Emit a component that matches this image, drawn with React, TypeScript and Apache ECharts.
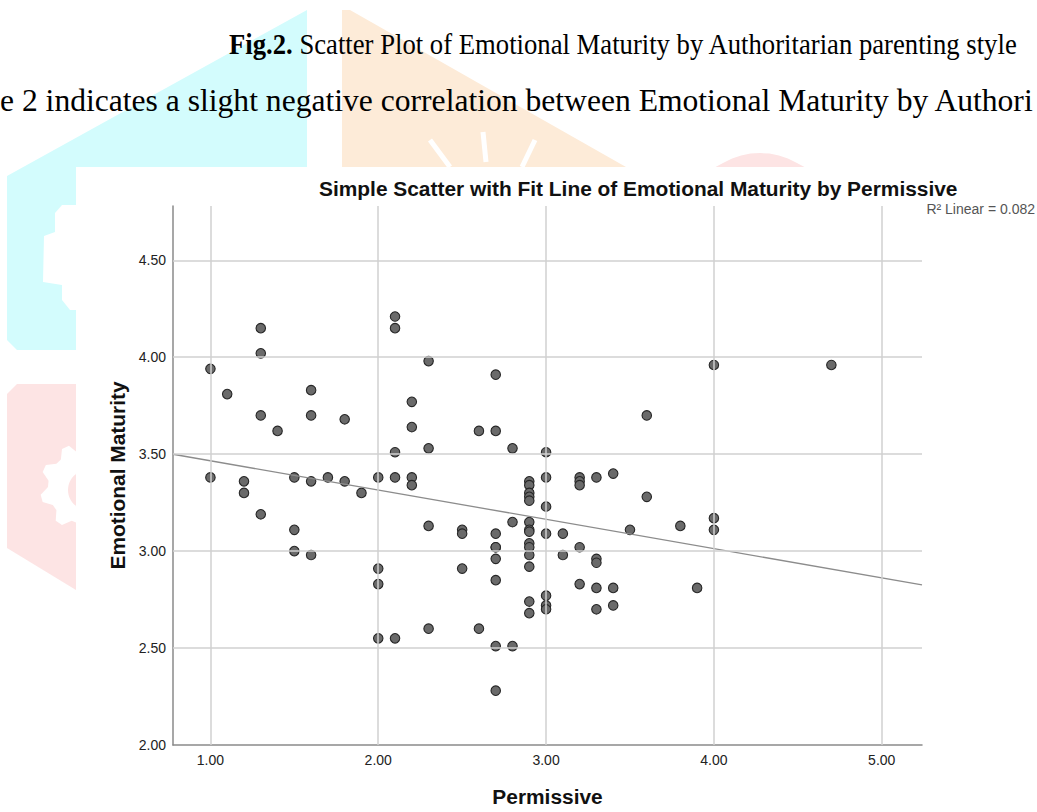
import React, { useEffect, useRef } from "react";
import * as echarts from "echarts";

// ---- data ----
const permissive = [
  1.0, 1.0,
  1.1,
  1.2, 1.2,
  1.3, 1.3, 1.3, 1.3,
  1.4,
  1.5, 1.5, 1.5,
  1.6, 1.6, 1.6, 1.6,
  1.7,
  1.8, 1.8,
  1.9,
  2.0, 2.0, 2.0, 2.0,
  2.1, 2.1, 2.1, 2.1, 2.1,
  2.2, 2.2, 2.2, 2.2,
  2.3, 2.3, 2.3, 2.3,
  2.5, 2.5, 2.5,
  2.6, 2.6,
  2.7, 2.7, 2.7, 2.7, 2.7, 2.7, 2.7, 2.7, 2.7,
  2.8, 2.8, 2.8,
  2.9, 2.9, 2.9, 2.9, 2.9, 2.9, 2.9, 2.9, 2.9, 2.9, 2.9, 2.9, 2.9, 2.9,
  3.0, 3.0, 3.0, 3.0, 3.0, 3.0, 3.0,
  3.1, 3.1,
  3.2, 3.2, 3.2, 3.2, 3.2,
  3.3, 3.3, 3.3, 3.3, 3.3,
  3.4, 3.4, 3.4,
  3.5,
  3.6, 3.6,
  3.8,
  3.9,
  4.0, 4.0, 4.0,
  4.7,
];
const emotionalMaturity = [
  3.94, 3.38,
  3.81,
  3.36, 3.3,
  4.15, 4.02, 3.7, 3.19,
  3.62,
  3.38, 3.11, 3.0,
  3.83, 3.7, 3.36, 2.98,
  3.38,
  3.68, 3.36,
  3.3,
  3.38, 2.91, 2.83, 2.55,
  4.21, 4.15, 3.51, 3.38, 2.55,
  3.77, 3.64, 3.38, 3.34,
  3.98, 3.53, 3.13, 2.6,
  3.11, 3.09, 2.91,
  3.62, 2.6,
  3.91, 3.62, 3.09, 3.02, 3.02, 2.96, 2.85, 2.51, 2.28,
  3.53, 3.15, 2.51,
  3.36, 3.34, 3.3, 3.28, 3.26, 3.15, 3.11, 3.1, 3.04, 3.02, 2.98, 2.92, 2.74, 2.68,
  3.51, 3.38, 3.23, 3.09, 2.77, 2.72, 2.7,
  3.09, 2.98,
  3.38, 3.36, 3.34, 3.02, 2.83,
  3.38, 2.96, 2.94, 2.81, 2.7,
  3.4, 2.81, 2.72,
  3.11,
  3.7, 3.28,
  3.13,
  2.81,
  3.96, 3.17, 3.11,
  3.96,
];

const xTicks = [1, 2, 3, 4, 5];
const yTicks = [2, 2.5, 3, 3.5, 4, 4.5];
const xRange = [0.777, 5.24];
const yRange = [2, 4.78];
const fitIntercept = 3.617;
const fitSlope = -0.151;
const rSquared = 0.082;

const chartTitle = "Simple Scatter with Fit Line of Emotional Maturity by Permissive";
const xName = "Permissive";
const yName = "Emotional Maturity";
const captionBold = "Fig.2.";
const captionRest = " Scatter Plot of Emotional Maturity by Authoritarian parenting style";
const bodyLine = "e 2 indicates a slight negative correlation between Emotional Maturity by Authori";

const SANS = "'Liberation Sans', Arial, sans-serif";
const SERIF = "'Liberation Serif', 'Times New Roman', serif";

function arcPoly(cx: number, cy: number, r: number, maxX: number, maxY: number, n = 48) {
  const pts: number[][] = [];
  for (let i = 0; i < n; i++) {
    const a = (i / n) * Math.PI * 2;
    pts.push([Math.min(cx + r * Math.cos(a), maxX), Math.min(cy + r * Math.sin(a), maxY)]);
  }
  return pts;
}

function gearPoly(cx: number, cy: number, r1: number, r2: number, teeth: number, maxX: number) {
  const pts: number[][] = [];
  const n = teeth * 4;
  for (let i = 0; i < n; i++) {
    const a = (i / n) * Math.PI * 2;
    const r = i % 4 < 2 ? r2 : r1;
    pts.push([Math.min(cx + r * Math.cos(a), maxX), cy + r * Math.sin(a)]);
  }
  return pts;
}

export default function App() {
  const ref = useRef<HTMLDivElement>(null);
  useEffect(() => {
    if (!ref.current) return;
    const chart = echarts.init(ref.current, undefined, { renderer: "svg" });
    const points = permissive.map((x, i) => [x, emotionalMaturity[i]]);
    const fit = [
      [xRange[0], fitIntercept + fitSlope * xRange[0]],
      [xRange[1], fitIntercept + fitSlope * xRange[1]],
    ];
    const cyan = "#d3fcfd";
    const orange = "#fdebd8";
    const pink = "#fde4e4";

    const graphic: any[] = [
      // watermark shapes
      { type: "polygon", shape: { points: [[307, 10], [307, 167], [76, 167], [76, 350], [17, 350], [7, 340], [7, 176]] }, style: { fill: cyan } },
      { type: "polygon", shape: { points: [[76, 205], [62, 205], [55, 213], [55, 232], [44, 236], [43, 282], [62, 285], [62, 300], [70, 310], [76, 310]] }, style: { fill: "#ffffff" } },
      { type: "polygon", shape: { points: [[342, 10], [350, 10], [626, 167], [342, 167]] }, style: { fill: orange } },
      { type: "line", shape: { x1: 430, y1: 140, x2: 450, y2: 167 }, style: { stroke: "#ffffff", lineWidth: 5 } },
      { type: "line", shape: { x1: 483, y1: 132, x2: 486, y2: 162 }, style: { stroke: "#ffffff", lineWidth: 5 } },
      { type: "line", shape: { x1: 535, y1: 140, x2: 522, y2: 167 }, style: { stroke: "#ffffff", lineWidth: 5 } },
      { type: "polygon", shape: { points: arcPoly(760, 226, 73, 2000, 167) }, style: { fill: pink } },
      { type: "polygon", shape: { points: [[17, 384], [76, 384], [76, 590], [7, 548], [7, 394]] }, style: { fill: pink } },
      { type: "polygon", shape: { points: gearPoly(84, 487, 36, 44, 9, 76) }, style: { fill: "#ffffff" } },
      { type: "polygon", shape: { points: arcPoly(88, 490, 20, 76, 2000) }, style: { fill: pink } },
      // document text
      {
        type: "text",
        x: 229,
        y: 44,
        scaleY: 1.12,
        style: {
          text: "{b|" + captionBold + "}{r|" + captionRest + "}",
          x: 0,
          y: 0,
          verticalAlign: "middle",
          textVerticalAlign: "middle",
          fill: "#000",
          fontSize: 26.7,
          fontFamily: SERIF,
          rich: {
            b: { fontWeight: "bold", fontSize: 26.7, fontFamily: SERIF, fill: "#000" },
            r: { fontWeight: "normal", fontSize: 26.7, fontFamily: SERIF, fill: "#000" },
          },
        },
      },
      {
        type: "text",
        x: 0,
        y: 100,
        style: {
          text: bodyLine,
          x: 0,
          y: 0,
          verticalAlign: "middle",
          textVerticalAlign: "middle",
          fill: "#000",
          fontSize: 31.6,
          fontFamily: SERIF,
        },
      },
      {
        type: "text",
        x: 1035,
        y: 209,
        style: {
          text: "R\u00b2 Linear = " + rSquared.toFixed(3),
          x: 0,
          y: 0,
          align: "right",
          textAlign: "right",
          verticalAlign: "middle",
          textVerticalAlign: "middle",
          fill: "#555555",
          fontSize: 14,
          fontFamily: SANS,
        },
      },
    ];

    const option: any = {
      animation: false,
      textStyle: { fontFamily: SANS },
      title: {
        text: chartTitle,
        left: 319,
        top: 178,
        padding: 0,
        textStyle: { fontSize: 20.9, fontWeight: "bold", color: "#111", fontFamily: SANS },
      },
      grid: { left: 173, top: 206, right: 115, bottom: 65, containLabel: false },
      xAxis: {
        type: "value",
        min: xRange[0],
        max: xRange[1],
        name: xName,
        nameLocation: "middle",
        nameGap: 41,
        nameTextStyle: { fontSize: 20.9, fontWeight: "bold", color: "#111", fontFamily: SANS },
        axisLine: { show: true, onZero: false, lineStyle: { color: "#8a8a8a", width: 1.5 } },
        axisTick: { show: false },
        splitLine: { show: false },
        axisLabel: {
          customValues: xTicks,
          formatter: (v: number) => v.toFixed(2),
          fontSize: 14,
          color: "#222",
          margin: 8,
          fontFamily: SANS,
        },
      },
      yAxis: {
        type: "value",
        min: yRange[0],
        max: yRange[1],
        name: yName,
        nameLocation: "middle",
        nameRotate: 90,
        nameGap: 43,
        nameTextStyle: { fontSize: 20.9, fontWeight: "bold", color: "#111", fontFamily: SANS },
        axisLine: { show: true, onZero: false, lineStyle: { color: "#8a8a8a", width: 1.5 } },
        axisTick: { show: false },
        splitLine: { show: false },
        axisLabel: {
          customValues: yTicks,
          formatter: (v: number) => v.toFixed(2),
          fontSize: 14,
          color: "#222",
          margin: 7,
          fontFamily: SANS,
        },
      },
      series: [
        {
          type: "line",
          data: [],
          z: 1,
          silent: true,
          markLine: {
            silent: true,
            symbol: ["none", "none"],
            label: { show: false },
            emphasis: { disabled: true },
            lineStyle: { color: "#d0d0d0", width: 1.5, type: "solid" },
            data: [
              ...xTicks.map((v) => ({ xAxis: v })),
              ...yTicks.filter((v) => v > yRange[0]).map((v) => ({ yAxis: v })),
            ],
          },
        },
        {
          type: "scatter",
          data: points,
          symbol: "circle",
          symbolSize: 9.5,
          z: 3,
          itemStyle: { color: "#6a6a6a", borderColor: "#262626", borderWidth: 1.1, opacity: 1 },
        },
        {
          type: "line",
          data: fit,
          z: 4,
          silent: true,
          symbol: "none",
          showSymbol: false,
          lineStyle: { color: "#8c8c8c", width: 1.3 },
        },
      ],
      graphic,
    };
    chart.setOption(option);
    return () => chart.dispose();
  }, []);

  return (
    <div
      ref={ref}
      style={{ position: "absolute", left: 0, top: 0, width: 1037, height: 812, background: "#ffffff" }}
    />
  );
}
